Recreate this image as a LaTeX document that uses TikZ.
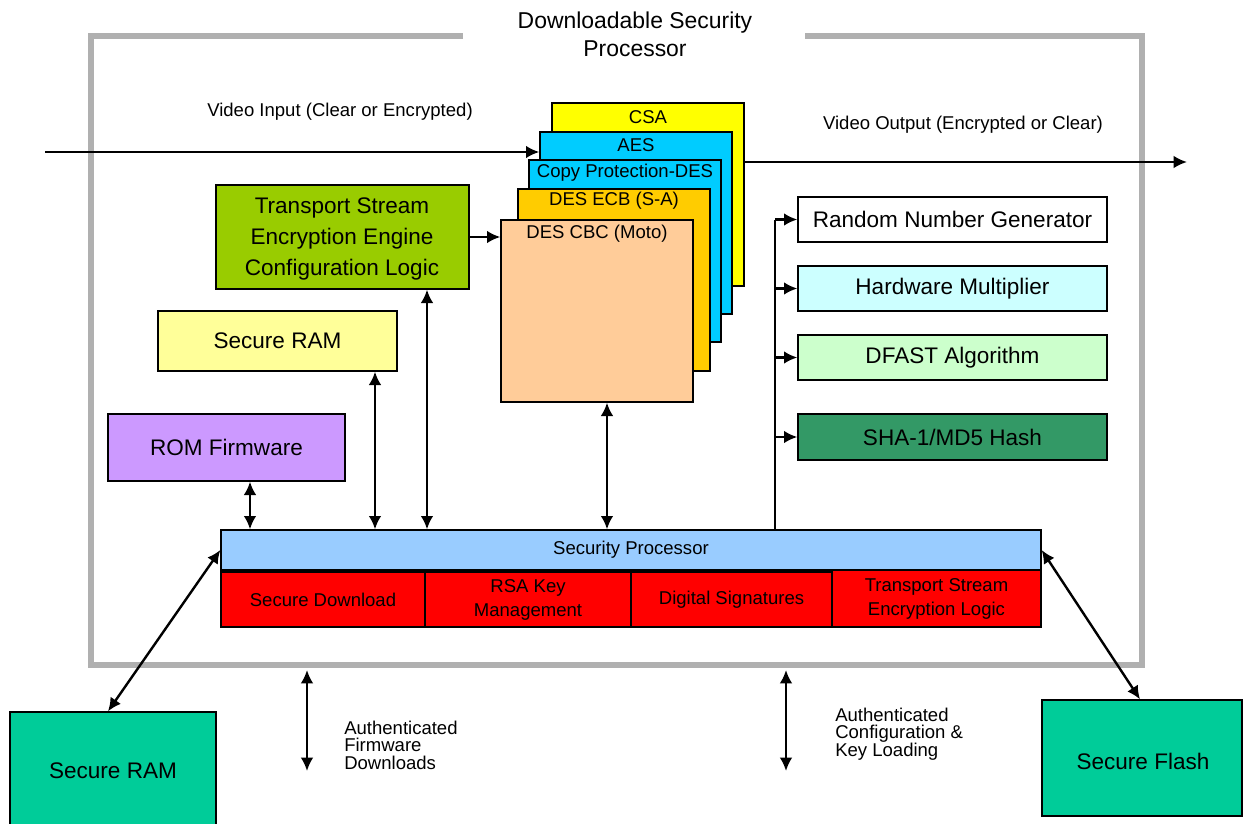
\documentclass[tikz,border=0pt]{standalone}
\usepackage{fontspec}
\setmainfont{Liberation Sans}
\usetikzlibrary{arrows.meta,fit}
\definecolor{cYel}{HTML}{FFFF00}
\definecolor{cCyan}{HTML}{00CCFF}
\definecolor{cOra}{HTML}{FFCC00}
\definecolor{cPeach}{HTML}{FFCC99}
\definecolor{cLime}{HTML}{99CC00}
\definecolor{cLYel}{HTML}{FFFF99}
\definecolor{cLil}{HTML}{CC99FF}
\definecolor{cSky}{HTML}{99CCFF}
\definecolor{cRed}{HTML}{FF0000}
\definecolor{cLCyan}{HTML}{CCFFFF}
\definecolor{cLGreen}{HTML}{CCFFCC}
\definecolor{cSea}{HTML}{339966}
\definecolor{cTeal}{HTML}{00CC99}
\definecolor{cFrame}{HTML}{B0B0B0}
\begin{document}
\begin{tikzpicture}[x=0.75pt,y=-0.75pt,
  box/.style={draw=black, line width=1pt, inner sep=0pt},
  big/.style={font=\fontsize{16.9}{22.9}\selectfont, align=center, inner sep=0pt},
  small/.style={font=\fontsize{13.9}{18}\selectfont, align=center, inner sep=0pt},
  tight/.style={font=\fontsize{13.9}{13.1}\selectfont, align=left, inner sep=0pt},
  title/.style={font=\fontsize{17.2}{21}\selectfont, align=center},
  arr/.style={-{Latex[length=10pt,width=9.5pt]}, line width=1.8pt},
  darr/.style={{Latex[length=10pt,width=9.5pt]}-{Latex[length=10pt,width=9.5pt]}, line width=1.8pt},
  frame/.style={draw=cFrame, line width=4.5pt},
  bus/.style={line width=1.8pt}]
\useasboundingbox (0,0) rectangle (1243,824);
% frame
\draw[frame] (463,36) -- (91,36) -- (91,665) -- (1142,665) -- (1142,36) -- (805,36);
\node[title] (ttl) at (635,34) {Downloadable Security\\Processor};

% stacked cipher boxes
\node[box, fill=cYel, fit={(552,103) (744,286)}] (csa) {};
\node[box, fill=cCyan, fit={(540,132) (732,314)}] (aes) {};
\node[box, fill=cCyan, fit={(529,160) (721,342)}] (cpd) {};
\node[box, fill=cOra, fit={(518,189) (710,371)}] (ecb) {};
\node[box, fill=cPeach, fit={(501,220) (693,402)}] (cbc) {};
\node[small] (csaL) at (648,117) {CSA};
\node[small] (aesL) at (636,145) {AES};
\node[small] (cpdL) at (625,173) {Copy Protection-DES};
\node[small] (ecbL) at (614,201) {DES ECB (S-A)};
\node[small] (cbcL) at (597,234) {DES CBC (Moto)};

% left boxes
\node[box, fill=cLime, fit={(216,185) (469,289)}] (ts) {};
\node[big] (tsL) at (342,239) {Transport Stream\\Encryption Engine\\Configuration Logic};
\node[box, fill=cLYel, fit={(158,311) (397,371)}] (sram) {};
\node[big] (sramL) at (sram.center) {Secure RAM};
\node[box, fill=cLil, fit={(108,414) (345,481)}] (rom) {};
\node[big] (romL) at (rom.center) {ROM Firmware};

% right boxes
\node[box, fill=white, fit={(798,197) (1107,242)}] (rng) {};
\node[big] (rngL) at (rng.center) {Random Number Generator};
\node[box, fill=cLCyan, fit={(798,266) (1107,311)}] (hm) {};
\node[big] (hmL) at (hm.center) {Hardware Multiplier};
\node[box, fill=cLGreen, fit={(798,335) (1107,380)}] (dfast) {};
\node[big] (dfastL) at (dfast.center) {DFAST Algorithm};
\node[box, fill=cSea, fit={(798,414) (1107,460)}] (sha) {};
\node[big] (shaL) at (sha.center) {SHA-1/MD5 Hash};

% security processor
\node[box, fill=cSky, fit={(221,530) (1041,570)}] (sp) {};
\node[small] (spL) at (sp.center) {Security Processor};
\node[box, fill=cRed, fit={(221,572) (425,627)}] (sd) {};
\node[small] (sdL) at (sd.center) {Secure Download};
\node[box, fill=cRed, fit={(425,572) (631,627)}] (rsa) {};
\node[small] (rsaL) at (rsa.center) {RSA Key\\Management};
\node[box, fill=cRed, fit={(631,572) (832,627)}] (ds) {};
\node[small] (dsL) at (ds.center) {Digital Signatures};
\node[box, fill=cRed, fit={(832,570) (1041,627)}] (tse) {};
\node[small] (tseL) at (tse.center) {Transport Stream\\Encryption Logic};

% external boxes
\node[box, fill=cTeal, fit={(10,712) (216,830)}] (ram2) {};
\node[big] (ram2L) at (113,771) {Secure RAM};
\node[box, fill=cTeal, fit={(1042,700) (1242,816)}] (flash) {};
\node[big] (flashL) at (1143,761) {Secure Flash};

% video lines
\coordinate (vin) at (45,152);
\coordinate (vout) at (1187,162);
\draw[arr] (vin) -- (vin -| aes.west);
\draw[arr] (csa.east |- vout) -- (vout);
\node[small] (vinL) at (340,112) {Video Input (Clear or Encrypted)};
\node[small] (voutL) at (963,125) {Video Output (Encrypted or Clear)};

% config to cipher
\draw[arr] (ts.east) -- (ts.east -| cbc.west);

% verticals to bus
\draw[darr] (rom.south -| 250,0) -- (sp.north -| 250,0);
\draw[darr] (sram.south -| 375,0) -- (sp.north -| 375,0);
\draw[darr] (ts.south -| 427,0) -- (sp.north -| 427,0);
\draw[darr] (cbc.south -| 607,0) -- (sp.north -| 607,0);

% right bus
\draw[bus] (sp.north -| 775,0) -- (rng.west -| 775,0);
\draw[arr] (rng.west -| 775,0) -- (rng.west);
\draw[arr] (hm.west -| 775,0) -- (hm.west);
\draw[arr] (dfast.west -| 775,0) -- (dfast.west);
\draw[arr] (sha.west -| 775,0) -- (sha.west);

% diagonals
\draw[darr] (ram2.north -| 108,0) -- (sp.west);
\draw[darr] (sp.east) -- (flash.north -| 1140,0);

% bottom arrows
\coordinate (fwT) at (307,670);
\coordinate (fwB) at (307,771);
\coordinate (kyT) at (786,670);
\coordinate (kyB) at (786,771);
\draw[darr] (fwT) -- (fwB);
\draw[darr] (kyT) -- (kyB);
\node[tight, anchor=west] (fwL) at (344,745) {Authenticated\\Firmware\\Downloads};
\node[tight, anchor=west] (kyL) at (835,734) {Authenticated\\Configuration \&\\Key Loading};
\end{tikzpicture}
\end{document}
